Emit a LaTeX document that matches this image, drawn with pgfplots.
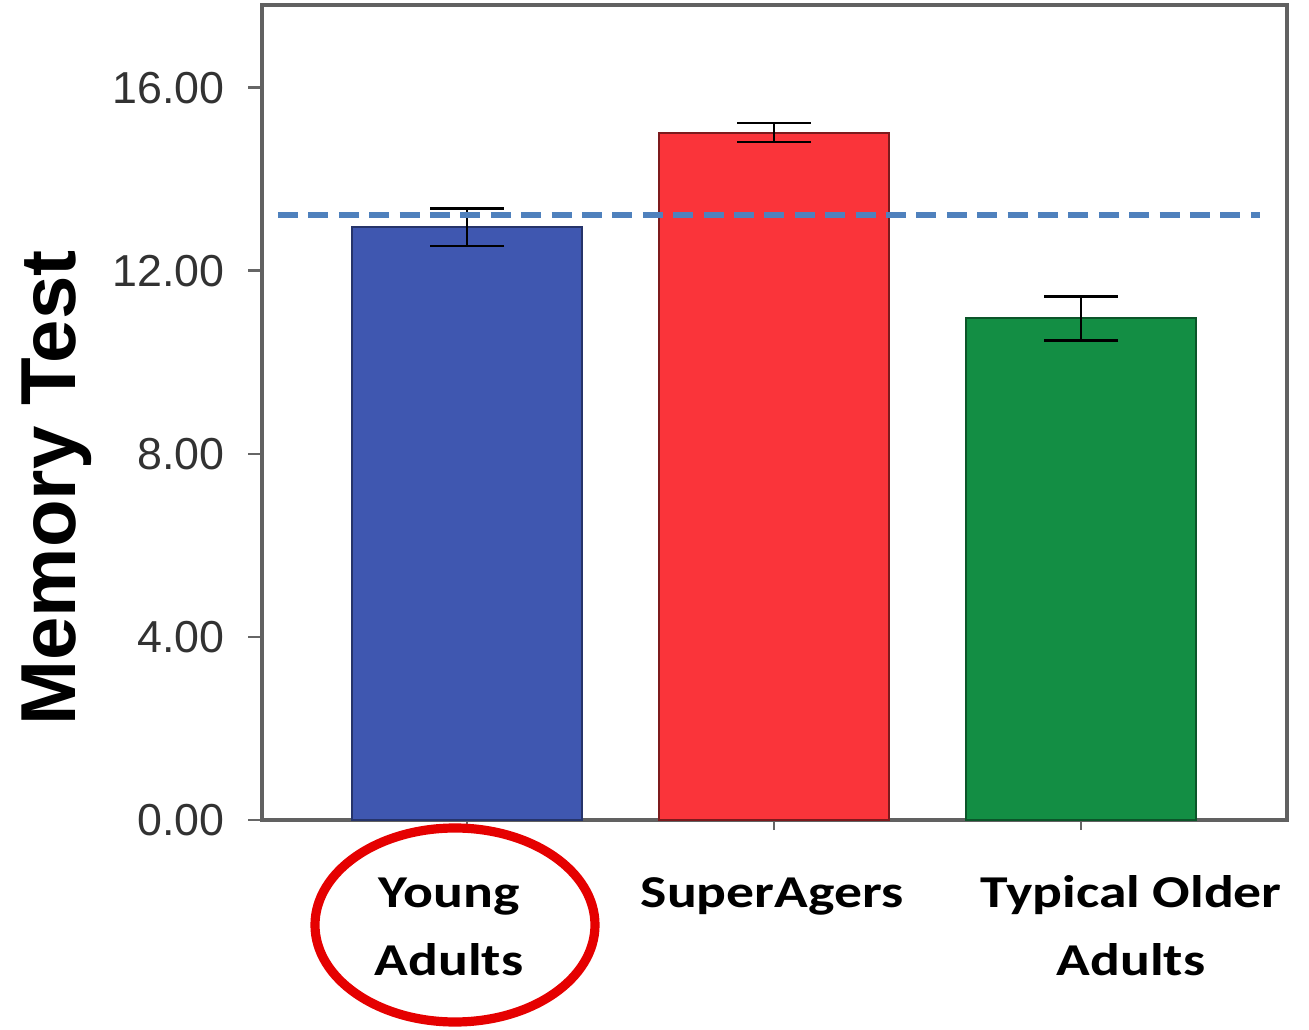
\documentclass[border=0pt]{standalone}
\usepackage{pgfplots}
\pgfplotsset{compat=1.18}
\usepackage{fontspec}
\setmainfont{Liberation Sans}
\newfontfamily\arialf{Liberation Sans}
\newfontfamily\calib{Carlito}[FakeStretch=1.22]
\definecolor{barblue}{RGB}{63,87,176}
\definecolor{barred}{RGB}{250,52,58}
\definecolor{bargreen}{RGB}{19,142,68}
\definecolor{dashblue}{RGB}{79,129,189}
\definecolor{tickgray}{RGB}{50,50,50}
\begin{document}
\begin{tikzpicture}
\path[use as bounding box] (-65.5pt,-52.5pt) rectangle (261.75pt,205pt);
\begin{axis}[
  scale only axis,
  width=256.25pt, height=203.75pt,
  xmin=-0.668, xmax=2.671,
  ymin=0, ymax=17.81,
  ybar, bar width=57.5pt, bar shift=0pt,
  xtick={0,1,2},
  xticklabels={
    {\kern-9pt\begin{tabular}[t]{@{}c@{}}Young\\[3pt]Adults\end{tabular}},
    {\kern-1pt\begin{tabular}[t]{@{}c@{}}SuperAgers\end{tabular}},
    {\kern25pt\begin{tabular}[t]{@{}c@{}}Typical Older\\[3pt]Adults\end{tabular}}},
  ytick={0,4,8,12,16},
  yticklabels={0.00,4.00,8.00,12.00,16.00},
  tick align=outside,
  xtick pos=bottom, ytick pos=left,
  xtick style={draw=black!60, line width=0.7pt, /pgfplots/major tick length=2.5pt},
  ytick style={draw=black!60, line width=0.7pt, /pgfplots/major tick length=3.4pt},
  yticklabel style={font=\arialf\fontsize{11.2}{13}\selectfont, text=tickgray, anchor=east, xshift=-1.5pt},
  xticklabel style={font=\calib\bfseries\fontsize{11.4}{14}\selectfont, text=black, anchor=base, yshift=-17.5pt},
  axis line style={draw=black!62, line width=0.9pt},
  ylabel={Memory Test},
  ylabel style={font=\arialf\bfseries\fontsize{19.5}{21}\selectfont, at={(axis description cs:-0.1824,0.4074)}, anchor=base, rotate=0},
  error bars/y dir=both,
  error bars/y explicit,
  error bars/error bar style={line width=0.6pt, black},
  error bars/error mark options={line width=0.6pt, black, mark size=9.25pt, rotate=90},
  clip=false,
]
\addplot[fill=barblue, draw=barblue!60!black, line width=0.5pt] coordinates {(0,12.95) +- (0,0.41)};
\addplot[fill=barred, draw=barred!50!black, line width=0.5pt] coordinates {(1,15.02) +- (0,0.21)};
\addplot[fill=bargreen, draw=bargreen!60!black, line width=0.5pt] coordinates {(2,10.96) +- (0,0.48)};
\addplot[sharp plot, no marks, dashblue, line width=1.3pt, dash pattern=on 5pt off 2.6pt] coordinates {(-0.616,13.22) (2.583,13.22)};
\end{axis}
\draw[red!90!black, line width=2.3pt] (48.25pt,-26.25pt) ellipse [x radius=35pt, y radius=24.25pt];
\end{tikzpicture}
\end{document}
